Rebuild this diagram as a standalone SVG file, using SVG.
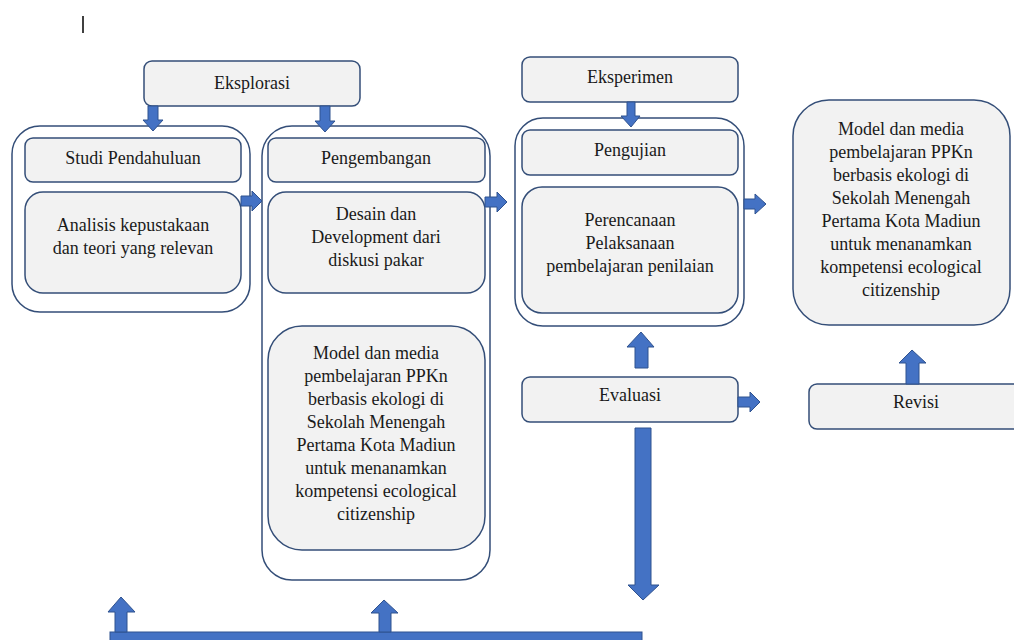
<svg xmlns="http://www.w3.org/2000/svg" width="1014" height="640" viewBox="0 0 1014 640">
<style>
.bg{fill:#ffffff}
.cont{fill:#ffffff;stroke:#344e78;stroke-width:1.5}
.box{fill:#f2f2f2;stroke:#344e78;stroke-width:1.5}
.arr{fill:#4472c4;stroke:#2f528f;stroke-width:1}
text{font-family:"Liberation Serif","Times New Roman",serif;font-size:18px;fill:#1a1a1a;text-anchor:middle}
</style>
<rect class="bg" x="0" y="0" width="1014" height="640"/>
<line x1="83" y1="16" x2="83" y2="33" stroke="#000" stroke-width="1.5"/>

<g id="eksplorasi">
<rect class="box" x="144" y="61" width="216" height="45" rx="8"/>
<text x="252" y="89">Eksplorasi</text>
</g>

<g id="studi-container">
<rect class="cont" x="12" y="126" width="238" height="186" rx="28"/>
</g>
<g id="studi-pendahuluan">
<rect class="box" x="25" y="138" width="216" height="44" rx="8"/>
<text x="133" y="164">Studi Pendahuluan</text>
</g>
<g id="analisis">
<rect class="box" x="25" y="192" width="216" height="101" rx="18"/>
<text x="133" y="231">Analisis kepustakaan</text>
<text x="133" y="254">dan teori yang relevan</text>
</g>

<g id="pengembangan-container">
<rect class="cont" x="262" y="126" width="228" height="454" rx="30"/>
</g>
<g id="pengembangan">
<rect class="box" x="268" y="138" width="217" height="44" rx="8"/>
<text x="376" y="164">Pengembangan</text>
</g>
<g id="desain">
<rect class="box" x="268" y="192" width="217" height="101" rx="18"/>
<text x="376" y="220">Desain dan</text>
<text x="376" y="243">Development dari</text>
<text x="376" y="266">diskusi pakar</text>
</g>
<g id="model-left">
<rect class="box" x="268" y="326" width="217" height="224" rx="34"/>
<text x="376" y="359">Model dan media</text>
<text x="376" y="382">pembelajaran PPKn</text>
<text x="376" y="405">berbasis ekologi di</text>
<text x="376" y="428">Sekolah Menengah</text>
<text x="376" y="451">Pertama Kota Madiun</text>
<text x="376" y="474">untuk menanamkan</text>
<text x="376" y="497">kompetensi ecological</text>
<text x="376" y="520">citizenship</text>
</g>

<g id="eksperimen">
<rect class="box" x="522" y="57" width="216" height="45" rx="8"/>
<text x="630" y="83">Eksperimen</text>
</g>
<g id="pengujian-container">
<rect class="cont" x="515" y="118" width="229" height="208" rx="28"/>
</g>
<g id="pengujian">
<rect class="box" x="522" y="130" width="216" height="45" rx="8"/>
<text x="630" y="156">Pengujian</text>
</g>
<g id="perencanaan">
<rect class="box" x="522" y="187" width="216" height="126" rx="20"/>
<text x="630" y="226">Perencanaan</text>
<text x="630" y="249">Pelaksanaan</text>
<text x="630" y="272">pembelajaran penilaian</text>
</g>

<g id="model-right">
<rect class="box" x="793" y="100" width="217" height="225" rx="36"/>
<text x="901" y="135">Model dan media</text>
<text x="901" y="158">pembelajaran PPKn</text>
<text x="901" y="181">berbasis ekologi di</text>
<text x="901" y="204">Sekolah Menengah</text>
<text x="901" y="227">Pertama Kota Madiun</text>
<text x="901" y="250">untuk menanamkan</text>
<text x="901" y="273">kompetensi ecological</text>
<text x="901" y="296">citizenship</text>
</g>

<g id="evaluasi">
<rect class="box" x="522" y="377" width="216" height="45" rx="8"/>
<text x="630" y="401">Evaluasi</text>
</g>
<g id="revisi">
<rect class="box" x="809" y="384" width="216" height="45" rx="8"/>
<text x="916" y="408">Revisi</text>
</g>

<g id="bottom-bar">
<rect class="arr" x="110" y="632" width="532" height="14"/>
</g>

<g id="connectors">
<!-- Eksplorasi down arrows -->
<polygon class="arr" points="148,106 158,106 158,120 163,120 153,131 143,120 148,120"/>
<polygon class="arr" points="320,106 330,106 330,121 335,121 325,132 315,121 320,121"/>
<!-- Eksperimen down -->
<polygon class="arr" points="627,102 635,102 635,116 640,116 631,127 621,116 627,116"/>
<!-- right arrows -->
<polygon class="arr" points="241,196 252,196 252,191 262,201 252,211 252,206 241,206"/>
<polygon class="arr" points="485,197 497,197 497,192 507,202 497,212 497,207 485,207"/>
<polygon class="arr" points="744,199 755,199 755,194 766,204 755,214 755,209 744,209"/>
<polygon class="arr" points="738,397 750,397 750,392 760,402 750,412 750,407 738,407"/>
<!-- up arrows -->
<polygon class="arr" points="635,368 648,368 648,347 654,347 641,332 627,347 635,347"/>
<polygon class="arr" points="906,384 919,384 919,363 926,363 912,350 899,363 906,363"/>
<polygon class="arr" points="115,632 127,632 127,612 135,612 121,597 108,612 115,612"/>
<polygon class="arr" points="379,632 391,632 391,613 398,613 384,600 371,613 379,613"/>
<!-- Evaluasi long down arrow -->
<polygon class="arr" points="635,428 651,428 651,585 659,585 643,600 628,585 635,585"/>
</g>
</svg>
